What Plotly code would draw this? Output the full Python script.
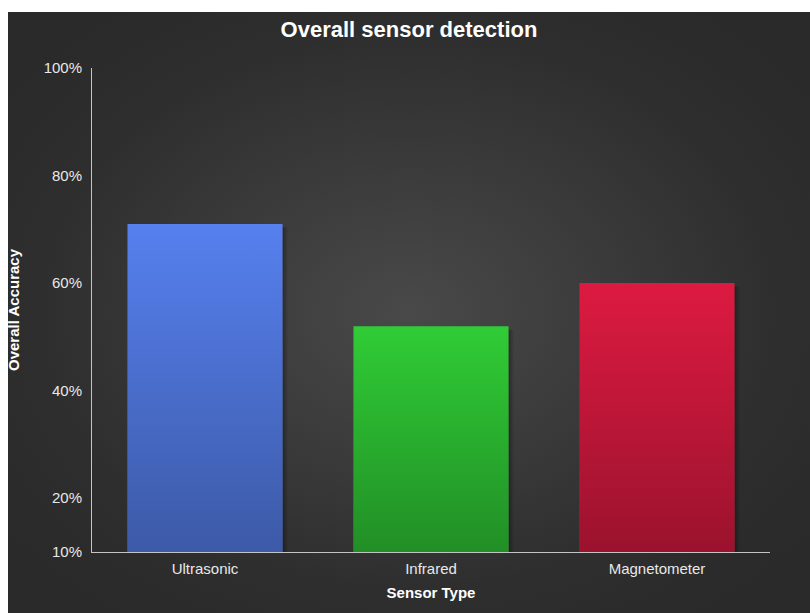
import base64
import plotly.graph_objects as go

# Data
sensors = ["Ultrasonic", "Infrared", "Magnetometer"]
accuracy = [71, 52, 60]
bar_colors = ["#5680ee", "#30cc36", "#dd1a41"]
y_tick_vals = [10, 20, 40, 60, 80, 100]
y_tick_text = ["10%", "20%", "40%", "60%", "80%", "100%"]

W, H = 810, 613
FONT = "Liberation Sans, Arial, Helvetica, sans-serif"
BAR_WIDTH = 0.686
Y_BASE = 10

# plot-area margins (pixels)
M_L, M_R, M_T, M_B = 92, 40, 68, 61
plot_w = W - M_L - M_R
plot_h = H - M_T - M_B


def svg_uri(svg):
    return "data:image/svg+xml;base64," + base64.b64encode(svg.encode()).decode()


# dark panel with a soft radial highlight in the middle
panel_x0, panel_y0 = 8, 12
panel_w, panel_h = W - panel_x0, H - panel_y0
panel_svg = (
    f'<svg xmlns="http://www.w3.org/2000/svg" width="{panel_w}" height="{panel_h}" '
    f'viewBox="0 0 {panel_w} {panel_h}" preserveAspectRatio="none">'
    '<defs><radialGradient id="g" cx="0.5" cy="0.5" r="0.62">'
    '<stop offset="0" stop-color="#494949"/>'
    '<stop offset="0.75" stop-color="#2e2e2e"/>'
    '<stop offset="1" stop-color="#2a2a2a"/>'
    '</radialGradient></defs>'
    f'<rect width="{panel_w}" height="{panel_h}" fill="url(#g)"/></svg>'
)

# vertical shading laid over each bar (transparent at top, darker at base)
shade_svg = (
    '<svg xmlns="http://www.w3.org/2000/svg" width="100" height="100" '
    'viewBox="0 0 100 100" preserveAspectRatio="none">'
    '<defs><linearGradient id="s" x1="0" y1="0" x2="0" y2="1">'
    '<stop offset="0" stop-color="#000" stop-opacity="0"/>'
    '<stop offset="1" stop-color="#000" stop-opacity="0.30"/>'
    '</linearGradient></defs>'
    '<rect width="100" height="100" fill="url(#s)"/></svg>'
)

# faint shadow strip along the right-hand edge of each bar
shadow_svg = (
    '<svg xmlns="http://www.w3.org/2000/svg" width="10" height="100" '
    'viewBox="0 0 10 100" preserveAspectRatio="none">'
    '<defs><linearGradient id="h" x1="0" y1="0" x2="1" y2="0">'
    '<stop offset="0" stop-color="#000" stop-opacity="0.35"/>'
    '<stop offset="1" stop-color="#000" stop-opacity="0"/>'
    '</linearGradient></defs>'
    '<rect width="10" height="100" fill="url(#h)"/></svg>'
)
SHADOW_W = 0.025

images = [
    dict(
        source=svg_uri(panel_svg),
        xref="paper", yref="paper",
        x=(panel_x0 - M_L) / plot_w,
        y=(H - M_B - panel_y0) / plot_h,
        sizex=panel_w / plot_w,
        sizey=panel_h / plot_h,
        xanchor="left", yanchor="top",
        sizing="stretch", layer="below",
    )
]
for i, val in enumerate(accuracy):
    images.append(
        dict(
            source=svg_uri(shadow_svg),
            xref="x", yref="y",
            x=i + BAR_WIDTH / 2, y=val - 0.6,
            sizex=SHADOW_W, sizey=val - Y_BASE - 0.6,
            xanchor="left", yanchor="top",
            sizing="stretch", layer="below",
        )
    )
    images.append(
        dict(
            source=svg_uri(shade_svg),
            xref="x", yref="y",
            x=i, y=val,
            sizex=BAR_WIDTH, sizey=val - Y_BASE,
            xanchor="center", yanchor="top",
            sizing="stretch", layer="above",
        )
    )

fig = go.Figure(
    go.Bar(
        x=sensors,
        y=accuracy,
        width=BAR_WIDTH,
        marker=dict(color=bar_colors, line=dict(width=0)),
        hoverinfo="skip",
    )
)

fig.update_layout(
    width=W,
    height=H,
    margin=dict(l=M_L, r=M_R, t=M_T, b=M_B),
    paper_bgcolor="white",
    plot_bgcolor="rgba(0,0,0,0)",
    showlegend=False,
    images=images,
    title=dict(
        text="<b>Overall sensor detection</b>",
        font=dict(family=FONT, size=22, color="white"),
        xref="paper", x=(409 - M_L) / plot_w, xanchor="center",
        yref="container", y=1 - 29 / H, yanchor="middle",
    ),
    xaxis=dict(
        showgrid=False,
        zeroline=False,
        showline=True,
        linecolor="#c4c4c4",
        linewidth=1,
        ticks="outside",
        ticklen=3,
        tickcolor="rgba(0,0,0,0)",
        tickfont=dict(family=FONT, size=15, color="#e8e8e8"),
        title=dict(
            text="<b>Sensor Type</b>",
            font=dict(family=FONT, size=15, color="white"),
            standoff=11,
        ),
    ),
    yaxis=dict(
        range=[Y_BASE, 100],
        tickvals=y_tick_vals,
        ticktext=y_tick_text,
        showgrid=False,
        zeroline=False,
        showline=True,
        linecolor="#c4c4c4",
        linewidth=1,
        ticks="outside",
        ticklen=6,
        tickcolor="rgba(0,0,0,0)",
        tickfont=dict(family=FONT, size=15, color="#e8e8e8"),
        title=dict(
            text="<b>Overall Accuracy</b>",
            font=dict(family=FONT, size=15, color="white"),
            standoff=20,
        ),
    ),
)

fig.write_html("out.html")
